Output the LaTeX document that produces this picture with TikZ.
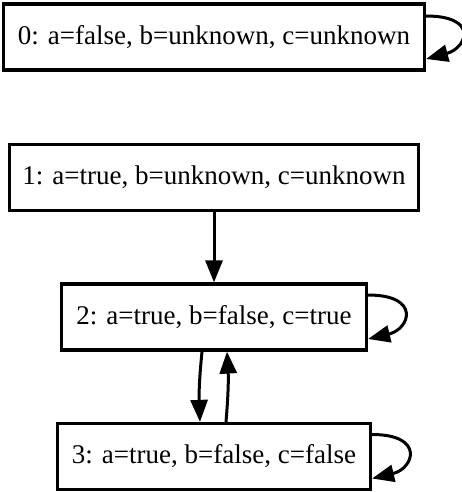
\documentclass[tikz,border=0pt]{standalone}
\usepackage{fontspec}
\setmainfont{Liberation Serif}
\usetikzlibrary{arrows.meta, positioning}

\begin{document}
\begin{tikzpicture}[
  state/.style={rectangle, draw, line width=3.2pt, minimum height=66pt, inner sep=0pt, font=\fontsize{27}{32}\selectfont},
  arrow/.style={-{Triangle[length=22pt, width=17pt]}, line width=3pt},
]
  \useasboundingbox (0,0) rectangle (462pt,-492pt);

  \node[state, minimum width=421pt] (n0) at (214pt,-37pt) {0: a=false, b=unknown, c=unknown};
  \node[state, minimum width=409pt] (n1) at (214pt,-177.5pt) {1: a=true, b=unknown, c=unknown};
  \node[state, minimum width=305pt] (n2) at (214pt,-317pt) {2: a=true, b=false, c=true};
  \node[state, minimum width=313pt] (n3) at (214pt,-456.5pt) {3: a=true, b=false, c=false};

  % self loops
  \draw[arrow] ([yshift=21pt]n0.east) .. controls ([shift={(53pt,21pt)}]n0.east) and ([shift={(41pt,-11pt)}]n0.east) .. ([yshift=-22pt]n0.east);
  \draw[arrow] ([yshift=22pt]n2.east) .. controls ([shift={(53pt,22pt)}]n2.east) and ([shift={(42pt,-12pt)}]n2.east) .. ([yshift=-22pt]n2.east);
  \draw[arrow] ([yshift=22pt]n3.east) .. controls ([shift={(53pt,22pt)}]n3.east) and ([shift={(42pt,-12pt)}]n3.east) .. ([yshift=-22pt]n3.east);

  \draw[arrow] (n1) -- (n2);
  \draw[arrow] ([xshift=-12pt]n2.south) to[bend right=4] ([xshift=-14pt]n3.north);
  \draw[arrow] ([xshift=12pt]n3.north) to[bend right=4] ([xshift=13pt]n2.south);
\end{tikzpicture}
\end{document}
